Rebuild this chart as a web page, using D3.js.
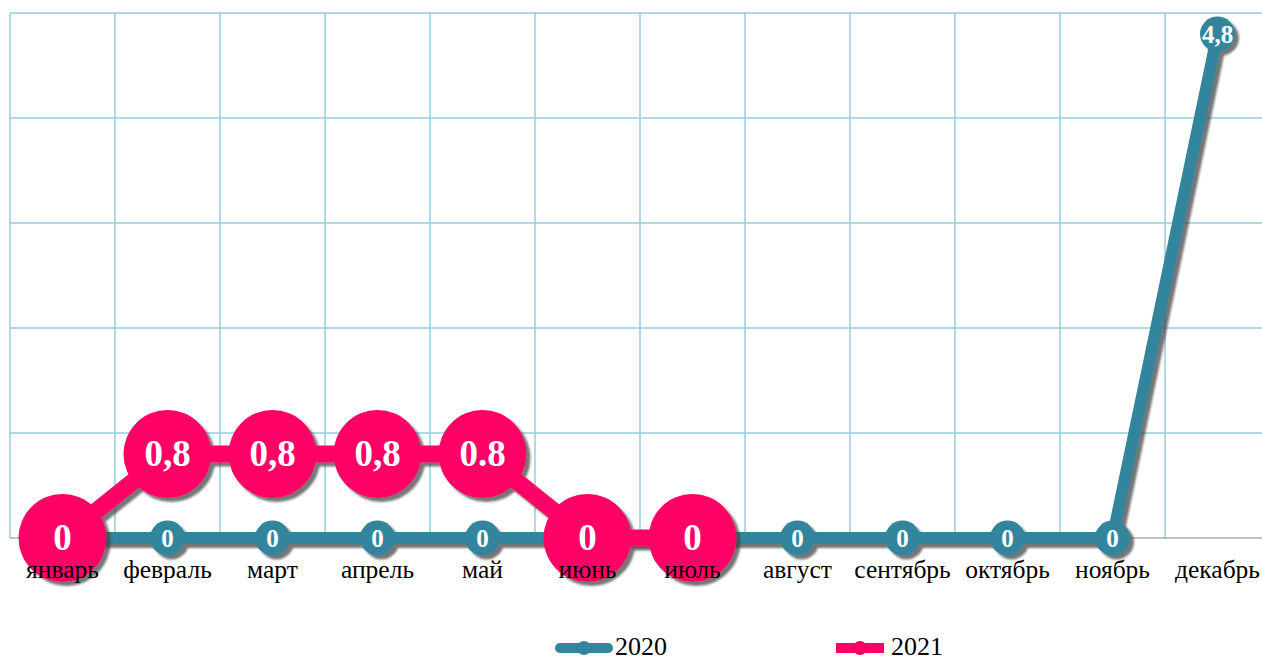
<!DOCTYPE html>
<html>
<head>
<meta charset="utf-8">
<script src="https://cdn.jsdelivr.net/npm/d3@7"></script>
<style>
  body { margin: 0; background: #fff; }
  svg text { font-family: "Liberation Serif", "DejaVu Serif", serif; }
</style>
</head>
<body>
<div id="chart"></div>
<script>
// Data
var months = ["январь", "февраль", "март", "апрель", "май", "июнь", "июль",
  "август", "сентябрь", "октябрь", "ноябрь", "декабрь"];
var values2020 = [0, 0, 0, 0, 0, 0, 0, 0, 0, 0, 0, 4.8];
var labels2020 = ["0", "0", "0", "0", "0", "0", "0", "0", "0", "0", "0", "4,8"];
var values2021 = [0, 0.8, 0.8, 0.8, 0.8, 0, 0];
var labels2021 = ["0", "0,8", "0,8", "0,8", "0.8", "0", "0"];
var yTicks = [0, 1, 2, 3, 4, 5];

var svgWidth = 1262;
var svgHeight = 657;
var margin = { top: 13, left: 10 };
var chartWidth = 1260;
var chartHeight = 525;

var svg = d3.select("#chart")
  .append("svg")
  .attr("width", svgWidth)
  .attr("height", svgHeight);

// drop shadow
var defs = svg.append("defs");
var shadow = defs.append("filter")
  .attr("id", "shadow")
  .attr("x", "-20%").attr("y", "-20%")
  .attr("width", "140%").attr("height", "140%");
shadow.append("feDropShadow")
  .attr("dx", 4).attr("dy", 4)
  .attr("stdDeviation", 1.2)
  .attr("flood-color", "#3a3a3a")
  .attr("flood-opacity", 0.7);

var chartGroup = svg.append("g")
  .attr("transform", `translate(${margin.left}, ${margin.top})`);

// Scales
var xScale = d3.scaleBand()
  .domain(months)
  .range([0, chartWidth]);
var yScale = d3.scaleLinear()
  .domain([0, 5])
  .range([chartHeight, 0]);

// Grid
var gridColor = "#93cddd";
chartGroup.append("g")
  .selectAll("line")
  .data(yTicks.slice(1))
  .join("line")
  .attr("x1", 0).attr("x2", chartWidth)
  .attr("y1", d => yScale(d)).attr("y2", d => yScale(d))
  .attr("stroke", gridColor).attr("stroke-width", 1.5);

chartGroup.append("g")
  .selectAll("line")
  .data(months)
  .join("line")
  .attr("x1", d => xScale(d)).attr("x2", d => xScale(d))
  .attr("y1", 0).attr("y2", chartHeight)
  .attr("stroke", gridColor).attr("stroke-width", 1.5);

// baseline
chartGroup.append("line")
  .attr("x1", 0).attr("x2", chartWidth)
  .attr("y1", yScale(0)).attr("y2", yScale(0))
  .attr("stroke", "#868686").attr("stroke-width", 1.2);

var cx = d => xScale(d) + xScale.bandwidth() / 2;

var drawLine = d3.line()
  .x((d, i) => cx(months[i]))
  .y(d => yScale(d));

// 2020 series
var g2020 = chartGroup.append("g").attr("filter", "url(#shadow)");
g2020.append("path")
  .attr("d", drawLine(values2020))
  .attr("fill", "none")
  .attr("stroke", "#31859c")
  .attr("stroke-width", 12)
  .attr("stroke-linejoin", "round");
g2020.selectAll("circle")
  .data(values2020)
  .join("circle")
  .attr("cx", (d, i) => cx(months[i]))
  .attr("cy", d => yScale(d))
  .attr("r", 17.5)
  .attr("fill", "#31859c");
chartGroup.append("g")
  .selectAll("text")
  .data(values2020)
  .join("text")
  .attr("x", (d, i) => cx(months[i]))
  .attr("y", d => yScale(d) + 8.5)
  .attr("text-anchor", "middle")
  .attr("font-size", 25)
  .attr("font-weight", "bold")
  .attr("fill", "#fff")
  .text((d, i) => labels2020[i]);

// 2021 series
var g2021 = chartGroup.append("g").attr("filter", "url(#shadow)");
g2021.append("path")
  .attr("d", drawLine(values2021))
  .attr("fill", "none")
  .attr("stroke", "#ff0066")
  .attr("stroke-width", 17)
  .attr("stroke-linejoin", "round");
g2021.selectAll("circle")
  .data(values2021)
  .join("circle")
  .attr("cx", (d, i) => cx(months[i]))
  .attr("cy", d => yScale(d))
  .attr("r", 44)
  .attr("fill", "#ff0066");
chartGroup.append("g")
  .selectAll("text")
  .data(values2021)
  .join("text")
  .attr("x", (d, i) => cx(months[i]))
  .attr("y", d => yScale(d) + 12)
  .attr("text-anchor", "middle")
  .attr("font-size", 37)
  .attr("font-weight", "bold")
  .attr("fill", "#fff")
  .text((d, i) => labels2021[i]);

// x axis labels
chartGroup.append("g")
  .selectAll("text")
  .data(months)
  .join("text")
  .attr("x", d => cx(d))
  .attr("y", chartHeight + 40)
  .attr("text-anchor", "middle")
  .attr("font-size", 25.5)
  .attr("fill", "#000")
  .text(d => d);

// Legend
var legend = svg.append("g");
var legendItems = [
  { name: "2020", color: "#31859c", x: 555, cap: "round" },
  { name: "2021", color: "#ff0066", x: 831, cap: "butt" }
];
legendItems.forEach(function(item) {
  legend.append("line")
    .attr("x1", item.x + 5).attr("x2", item.x + 53)
    .attr("y1", 648).attr("y2", 648)
    .attr("stroke", item.color)
    .attr("stroke-width", 10)
    .attr("stroke-linecap", item.cap);
  legend.append("circle")
    .attr("cx", item.x + 29).attr("cy", 648)
    .attr("r", 7)
    .attr("fill", item.color);
  legend.append("text")
    .attr("x", item.x + 60)
    .attr("y", 655)
    .attr("font-size", 26)
    .attr("fill", "#000")
    .text(item.name);
});
</script>
</body>
</html>
